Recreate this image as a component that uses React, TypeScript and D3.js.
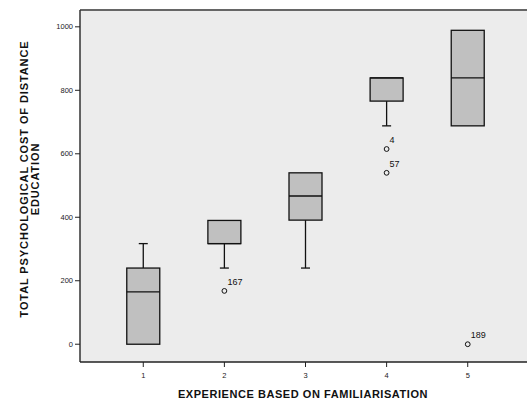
import React from 'react';
import * as d3 from 'd3';

// experience groups 1..5
const groups = [1, 2, 3, 4, 5];
const q1 = [0, 317, 391, 766, 688];
const medians = [165, 317, 467, 839, 839];
const q3 = [240, 390, 540, 839, 989];
const whiskerLow = [0, 240, 240, 688, 688];
const whiskerHigh = [317, 390, 540, 839, 989];

const outlierGroup = [2, 4, 4, 5];
const outlierValue = [168, 615, 540, 0];
const outlierLabel = ['167', '4', '57', '189'];

const yTicks = [0, 200, 400, 600, 800, 1000];

const W = 527;
const H = 405;
const left = 80;
const right = 531;
const top = 10;
const bottom = 362;

export default function App() {
  const x = d3.scaleLinear().domain([0.22, 5.78]).range([left, right]);
  const y = d3.scaleLinear().domain([-56, 1053]).range([bottom, top]);
  const boxW = 33;
  const capW = 9;
  const font = 'Arial, "Liberation Sans", sans-serif';

  return (
    <svg width={W} height={H} style={{position: 'absolute', left: 0, top: 0}}>
      <rect x={0} y={0} width={W} height={H} fill="#fff" />
      <rect x={left} y={top} width={right - left} height={bottom - top} fill="#ececec" />
      {/* frame */}
      <line x1={left} x2={right} y1={top} y2={top} stroke="#666" strokeWidth={2} />
      <line x1={left} x2={left} y1={top} y2={bottom} stroke="#333" strokeWidth={1.5} />
      <line x1={left} x2={right} y1={bottom} y2={bottom} stroke="#222" strokeWidth={1.5} />

      {/* y axis */}
      {yTicks.map(t => (
        <g key={t}>
          <line x1={left - 5} x2={left} y1={y(t)} y2={y(t)} stroke="#222" />
          <text x={left - 7} y={y(t)} dy="0.35em" textAnchor="end" fontSize={7.5} fontFamily={font} fill="#222">{t}</text>
        </g>
      ))}
      {/* x axis */}
      {groups.map(g => (
        <g key={g}>
          <line x1={x(g)} x2={x(g)} y1={bottom} y2={bottom + 5} stroke="#222" />
          <text x={x(g)} y={bottom + 16} textAnchor="middle" fontSize={7.5} fontFamily={font} fill="#222">{g}</text>
        </g>
      ))}

      {/* boxes */}
      {groups.map((g, i) => {
        const cx = x(g);
        return (
          <g key={g} stroke="#111" strokeWidth={1.3}>
            {whiskerHigh[i] > q3[i] && (
              <>
                <line x1={cx} x2={cx} y1={y(q3[i])} y2={y(whiskerHigh[i])} />
                <line x1={cx - capW / 2} x2={cx + capW / 2} y1={y(whiskerHigh[i])} y2={y(whiskerHigh[i])} />
              </>
            )}
            {whiskerLow[i] < q1[i] && (
              <>
                <line x1={cx} x2={cx} y1={y(q1[i])} y2={y(whiskerLow[i])} />
                <line x1={cx - capW / 2} x2={cx + capW / 2} y1={y(whiskerLow[i])} y2={y(whiskerLow[i])} />
              </>
            )}
            <rect x={cx - boxW / 2} y={y(q3[i])} width={boxW} height={y(q1[i]) - y(q3[i])} fill="#c0c0c0" />
            <line x1={cx - boxW / 2} x2={cx + boxW / 2} y1={y(medians[i])} y2={y(medians[i])} />
          </g>
        );
      })}

      {/* outliers */}
      {outlierGroup.map((g, i) => (
        <g key={i}>
          <circle cx={x(g)} cy={y(outlierValue[i])} r={2.4} fill="none" stroke="#111" strokeWidth={1} />
          <text x={x(g) + 3} y={y(outlierValue[i]) - 6} fontSize={9} fontFamily={font} fill="#111">{outlierLabel[i]}</text>
        </g>
      ))}

      {/* axis titles */}
      <text x={303} y={398} textAnchor="middle" fontSize={11} fontWeight="bold" fontFamily={font} fill="#111" letterSpacing={0.55}>
        EXPERIENCE BASED ON FAMILIARISATION
      </text>
      <g transform={`translate(28,179) rotate(-90)`}>
        <text x={0} y={0} textAnchor="middle" fontSize={11} fontWeight="bold" fontFamily={font} fill="#111" letterSpacing={0.9}>
          TOTAL PSYCHOLOGICAL COST OF DISTANCE
        </text>
        <text x={0} y={10.5} textAnchor="middle" fontSize={11} fontWeight="bold" fontFamily={font} fill="#111" letterSpacing={0.9}>
          EDUCATION
        </text>
      </g>
    </svg>
  );
}
